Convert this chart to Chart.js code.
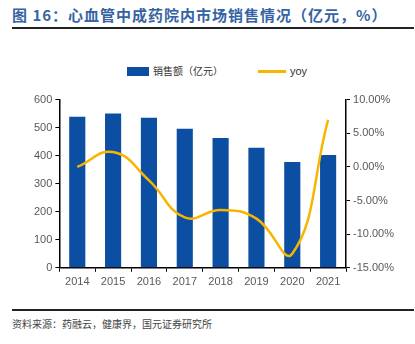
<!DOCTYPE html>
<html lang="zh">
<head>
  <meta charset="UTF-8" />
  <title>心血管中成药院内市场销售情况</title>
  <script src="https://cdn.jsdelivr.net/npm/chart.js"></script>
  <style>
    body { margin: 0; width: 415px; height: 344px; background: #fff; position: relative; overflow: hidden; font-family: "Liberation Sans", Arial, sans-serif; }
    .title { position: absolute; left: 12px; top: 4px; font-size: 15px; font-weight: bold; color: #3563a3; font-family: "Noto Sans CJK SC", sans-serif; letter-spacing: 1px; }
    .rule { position: absolute; left: 12px; width: 402px; height: 2px; background: #222; }
    .src { position: absolute; left: 12px; top: 316px; font-size: 10px; color: #444; font-family: "Noto Sans CJK SC", serif; }
    .legend { position: absolute; top: 64px; font-size: 10px; color: #333; font-family: "Noto Sans CJK SC", sans-serif; line-height: 14px; }
    .sw { position: absolute; }
    #wrap { position: absolute; left: 0; top: 90px; width: 415px; height: 209px; }
  </style>
</head>
<body>
  <div class="title">图 16：心血管中成药院内市场销售情况（亿元，%）</div>
  <div class="rule" style="top:27px"></div>

  <div class="sw" style="left:127px; top:67px; width:22px; height:9px; background:#0b4ea2"></div>
  <div class="legend" style="left:153px">销售额（亿元）</div>
  <div class="sw" style="left:258px; top:70px; width:28px; height:3px; background:#f7b500"></div>
  <div class="legend" style="left:290px; font-family:'Liberation Sans', Arial, sans-serif; font-size:11px">yoy</div>

  <div id="wrap"><canvas id="c"></canvas></div>
  <div class="rule" style="top:309px"></div>
  <div class="src">资料来源：药融云，健康界，国元证券研究所</div>

  <script>
    const years = ['2014', '2015', '2016', '2017', '2018', '2019', '2020', '2021'];
    const sales = [539, 550, 535, 496, 463, 428, 377, 402];
    const yoy = [0.0, 2.2, -2.0, -7.5, -6.4, -7.7, -12.9, 7.0];

    const tickFont = { family: '"Liberation Sans", Arial, sans-serif', size: 11 };

    new Chart(document.getElementById('c'), {
      data: {
        labels: years,
        datasets: [
          { type: 'line', label: 'yoy', data: yoy, yAxisID: 'y1', borderColor: '#f7b500',
            borderWidth: 2.5, pointRadius: 0, tension: 0.45, order: 0 },
          { type: 'bar', label: '销售额（亿元）', data: sales, yAxisID: 'y', backgroundColor: '#0b4ea2',
            categoryPercentage: 0.9, barPercentage: 0.5, order: 1 }
        ]
      },
      options: {
        responsive: true,
        maintainAspectRatio: false,
        animation: false,
        layout: { padding: { left: 31, right: 18, top: 4, bottom: 6 } },
        plugins: {
          legend: { display: false },
          tooltip: { enabled: false }
        },
        scales: {
          x: {
            offset: true,
            grid: { display: true, drawOnChartArea: false, drawTicks: true, tickLength: 4, offset: true, color: '#000' },
            border: { color: '#000', width: 1.5 },
            ticks: { color: '#595959', font: tickFont, padding: 4 }
          },
          y: {
            position: 'left', min: 0, max: 600,
            grid: { display: true, drawOnChartArea: false, tickLength: 4, color: '#000' },
            border: { color: '#000', width: 1.5 },
            ticks: { stepSize: 100, color: '#595959', font: tickFont, padding: 3 }
          },
          y1: {
            position: 'right', min: -15, max: 10,
            grid: { display: true, drawOnChartArea: false, tickLength: 4, color: '#000' },
            border: { color: '#000', width: 1.5 },
            ticks: { stepSize: 5, color: '#595959', font: tickFont, padding: 3, callback: v => v.toFixed(2) + '%' }
          }
        }
      }
    });
  </script>
</body>
</html>
